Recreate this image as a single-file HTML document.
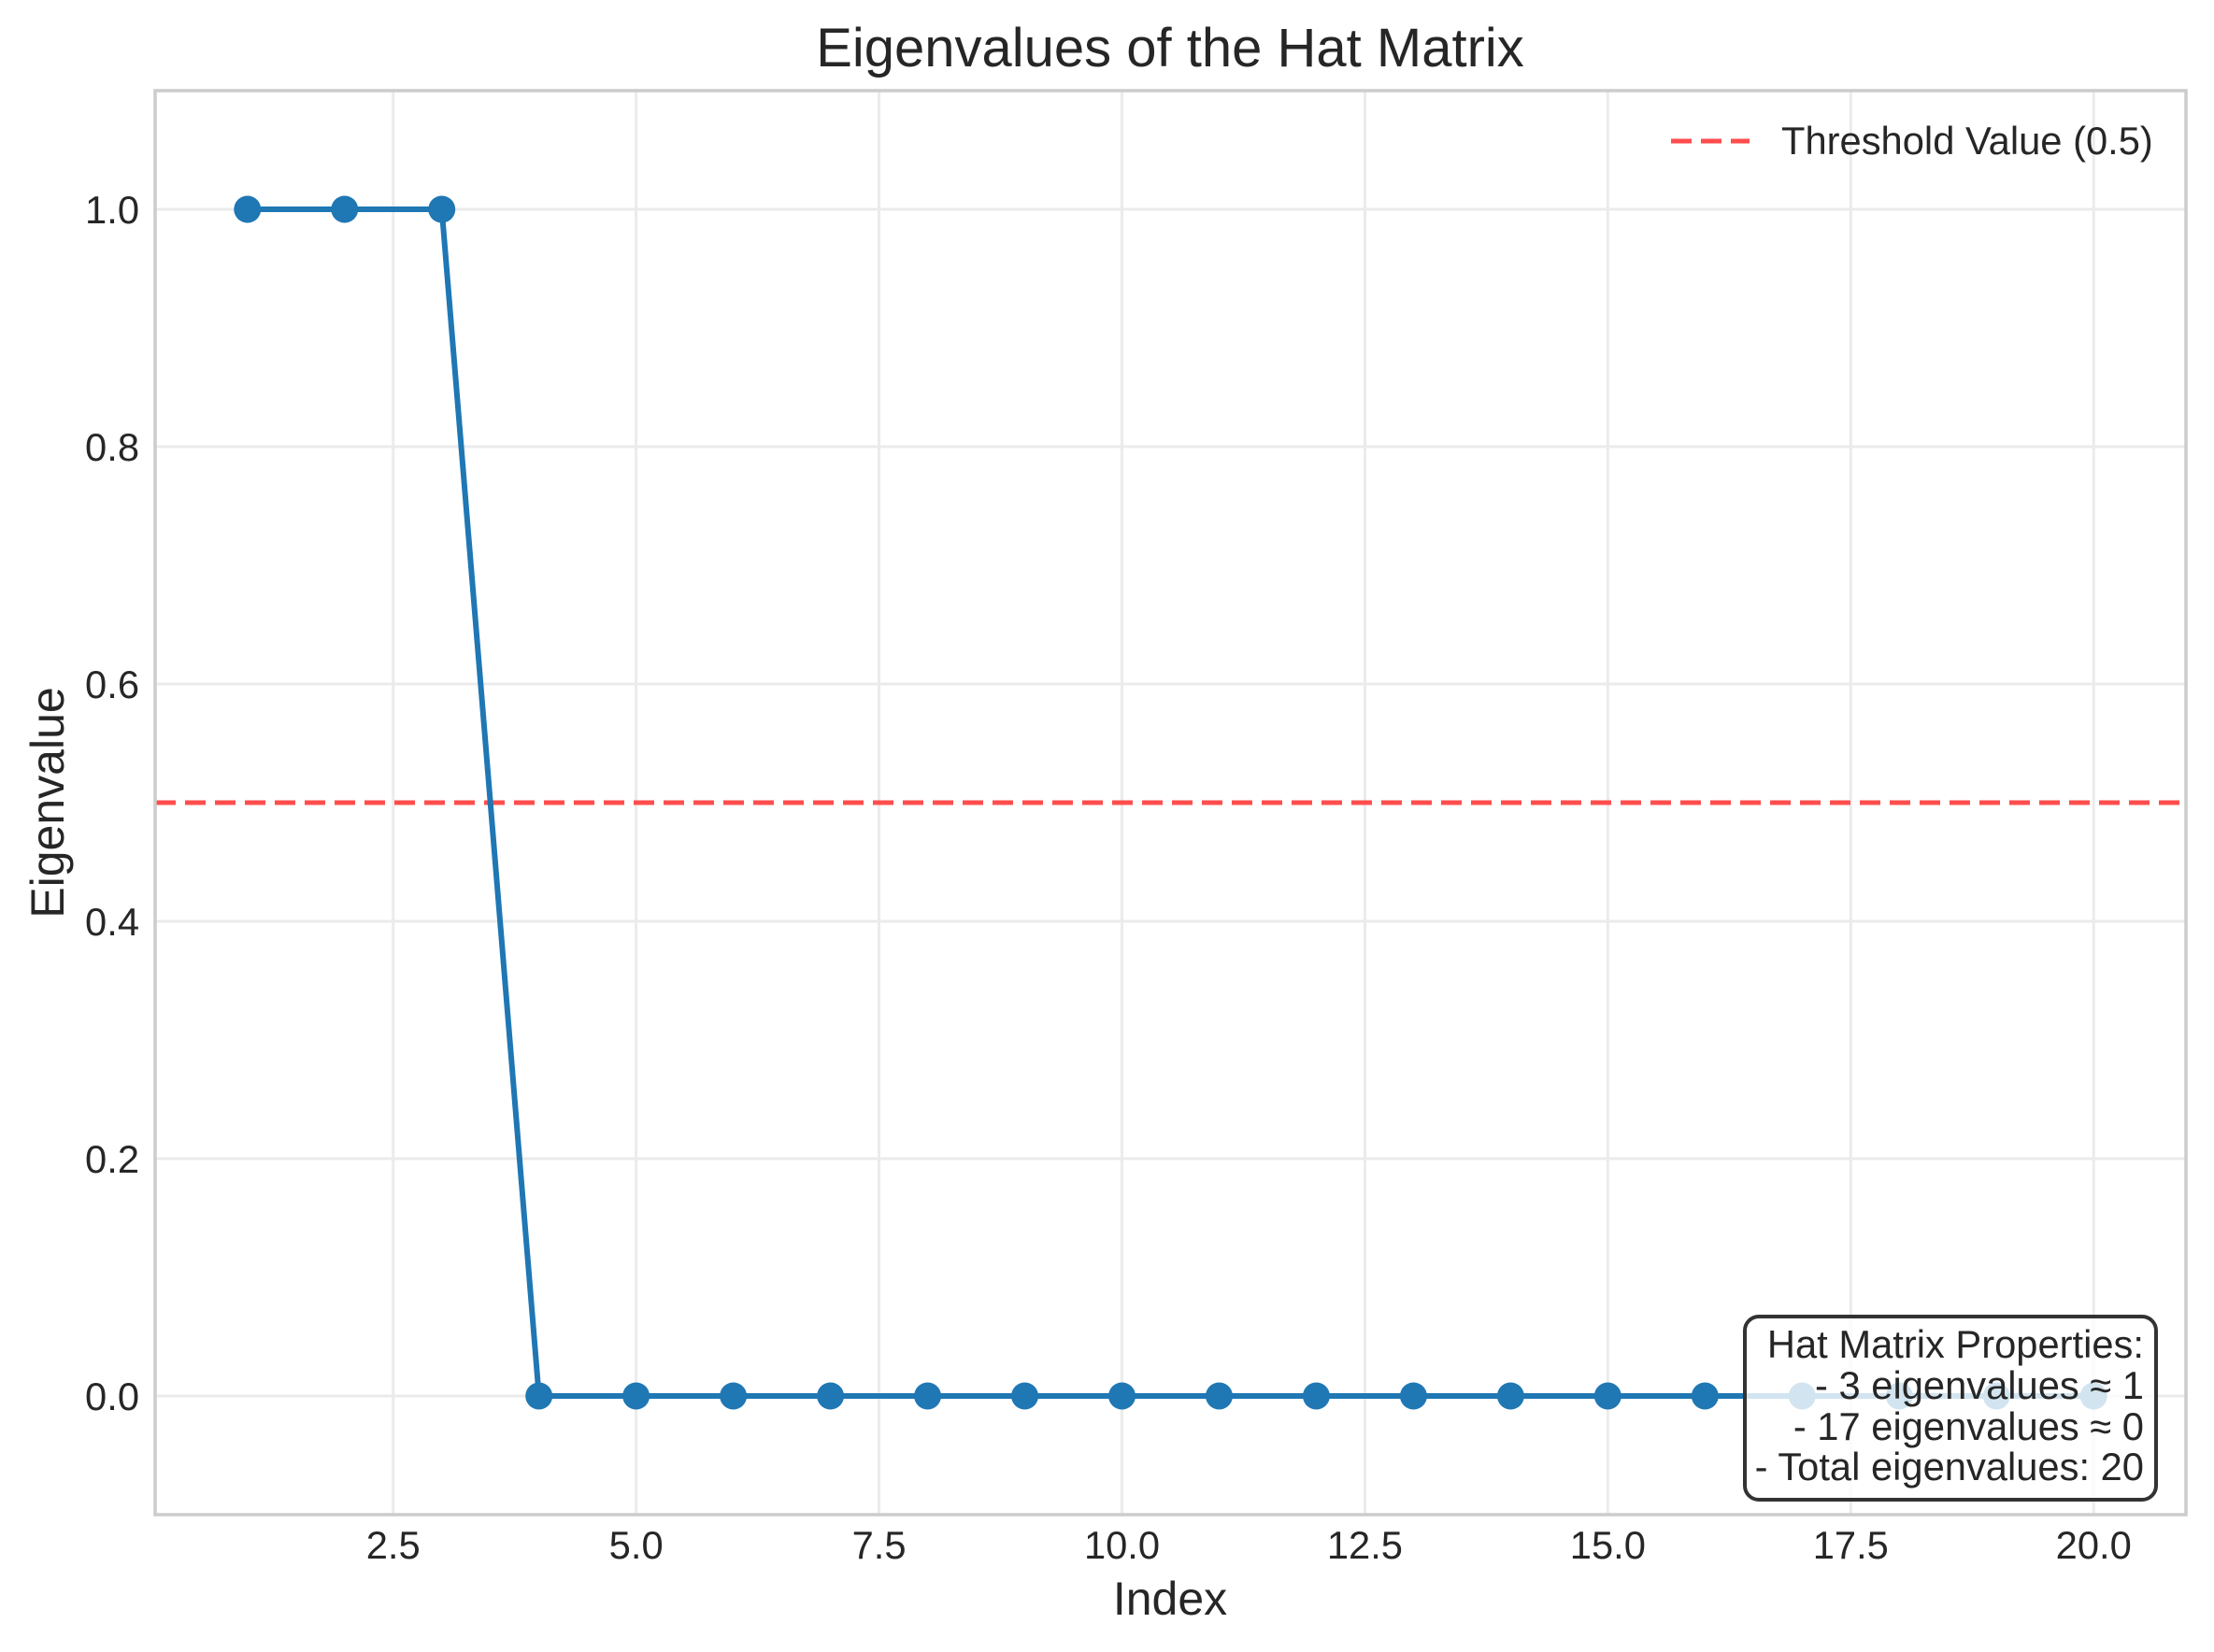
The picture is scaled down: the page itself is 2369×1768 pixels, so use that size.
<!DOCTYPE html>
<html><head><meta charset="utf-8"><style>
html,body{margin:0;padding:0;background:#fff;}
svg{display:block;font-family:"Liberation Sans",Arial,sans-serif;}
</style></head><body>
<svg id="chart" width="2369" height="1768" viewBox="0 0 2369 1768" xmlns="http://www.w3.org/2000/svg">
<rect x="0" y="0" width="2369" height="1768" fill="#fff"/>
<g id="grid"></g>
<g id="ticks"></g>
<line id="threshold" stroke="#ff4d4d" stroke-width="5" stroke-dasharray="22,10"/>
<polyline id="series" fill="none" stroke="#1f77b4" stroke-width="6" stroke-linejoin="round"/>
<g id="markers"></g>
<rect x="166" y="97" width="2173" height="1524" fill="none" stroke="#cccccc" stroke-width="3.5"/>
<text x="1252" y="71" font-size="58" fill="#262626" text-anchor="middle">Eigenvalues of the Hat Matrix</text>
<text x="1252" y="1728" font-size="50" fill="#262626" text-anchor="middle">Index</text>
<text x="0" y="0" font-size="50" fill="#262626" text-anchor="middle" transform="translate(68,859) rotate(-90)">Eigenvalue</text>
<g>
<line x1="1788" y1="151" x2="1872" y2="151" stroke="#ff4d4d" stroke-width="5" stroke-dasharray="22,10"/>
<text x="1906" y="165" font-size="41.7" fill="#262626">Threshold Value (0.5)</text>
</g>
<g>
<rect x="1867" y="1409" width="440" height="196" rx="15" ry="15" fill="#fff" fill-opacity="0.8" stroke="#333" stroke-width="4"/>
<g font-size="41.7" fill="#262626" text-anchor="end">
<text x="2294" y="1453">Hat Matrix Properties:</text>
<text x="2294" y="1497">- 3 eigenvalues ≈ 1</text>
<text x="2294" y="1541">- 17 eigenvalues ≈ 0</text>
<text x="2294" y="1584">- Total eigenvalues: 20</text>
</g>
</g>
</svg>
<script>
const indices = [1,2,3,4,5,6,7,8,9,10,11,12,13,14,15,16,17,18,19,20];
const eigenvalues = [1,1,1,0,0,0,0,0,0,0,0,0,0,0,0,0,0,0,0,0];
const thresholdValue = 0.5;
const xTicks = [2.5,5.0,7.5,10.0,12.5,15.0,17.5,20.0];
const yTicks = [0.0,0.2,0.4,0.6,0.8,1.0];

const L=166,R=2339,T=97,B=1621;
const xMin=0.05,xMax=20.95,yMin=-0.1,yMax=1.1;
const xs=v=>L+(v-xMin)/(xMax-xMin)*(R-L);
const ys=v=>B-(v-yMin)/(yMax-yMin)*(B-T);
const NS='http://www.w3.org/2000/svg';
const grid=document.getElementById('grid'),ticks=document.getElementById('ticks');
function mk(tag,attrs,parent){const e=document.createElementNS(NS,tag);for(const k in attrs)e.setAttribute(k,attrs[k]);parent.appendChild(e);return e;}
xTicks.forEach(t=>{
  const g=mk('line',{x1:xs(t),x2:xs(t),y1:T,y2:B,stroke:'#ebebeb','stroke-width':3},grid);
  
  
  const tx=mk('text',{x:xs(t),y:1668,'font-size':41.7,fill:'#262626','text-anchor':'middle'},ticks);
  tx.textContent=t.toFixed(1);
  
  
});
yTicks.forEach(t=>{
  const g=mk('line',{x1:L,x2:R,y1:ys(t),y2:ys(t),stroke:'#ebebeb','stroke-width':3},grid);
  
  
  const tx=mk('text',{x:149,y:ys(t)+15,'font-size':41.7,fill:'#262626','text-anchor':'end'},ticks);
  tx.textContent=t.toFixed(1);
  
  
});
const th=document.getElementById('threshold');
th.setAttribute('x1',L);th.setAttribute('x2',R);th.setAttribute('y1',ys(thresholdValue));th.setAttribute('y2',ys(thresholdValue));
document.getElementById('series').setAttribute('points',indices.map((x,i)=>xs(x)+','+ys(eigenvalues[i])).join(' '));
const mg=document.getElementById('markers');
indices.forEach((x,i)=>{
  const c=mk('circle',{cx:xs(x),cy:ys(eigenvalues[i]),r:14.5,fill:'#1f77b4'},mg);
  
  
});
</script>
</body></html>
